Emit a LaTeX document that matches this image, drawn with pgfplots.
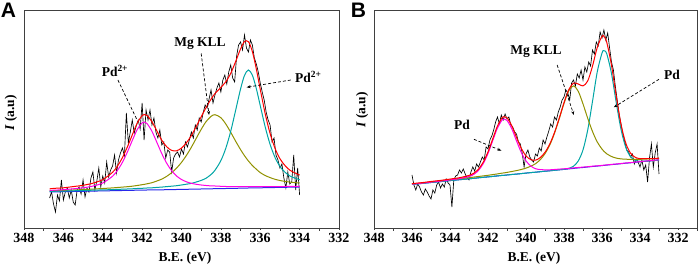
\documentclass[border=0pt]{standalone}
\usepackage{fontspec}
\setmainfont{Liberation Serif}
\newfontfamily\arialfont{Liberation Sans}
\usepackage{pgfplots}
\pgfplotsset{compat=1.18}
\usepackage{pgfplotstable}
\usetikzlibrary{arrows.meta}

\definecolor{cmag}{RGB}{255,0,230}
\definecolor{colive}{RGB}{145,145,0}
\definecolor{cteal}{RGB}{0,165,165}
\definecolor{cblue}{RGB}{40,40,235}
\definecolor{cred}{RGB}{255,0,0}

\pgfplotstableread{
E M O T S B
346.7 37.5 37.1 36.5 39.1 36.0
346.5 37.8 37.3 36.7 39.6 36.1
346.0 38.3 37.6 36.9 40.2 36.3
345.5 39.2 38.0 37.2 41.4 36.5
345.0 40.2 38.4 37.5 42.7 36.7
344.5 41.9 38.9 37.8 44.8 36.9
344.0 45.0 39.5 38.1 48.4 37.1
343.5 51.8 40.1 38.4 55.7 37.3
343.25 57.7 40.5 38.6 62.0 37.4
343.0 65.7 40.9 38.8 70.4 37.5
342.75 75.9 41.3 39.0 81.0 37.6
342.5 87.5 41.8 39.2 93.1 37.7
342.25 98.4 42.5 39.5 104.8 37.8
342.0 105.2 43.3 39.7 112.4 37.9
341.9 105.9 43.6 39.8 113.5 37.9
341.75 104.4 44.2 40.0 112.6 38.0
341.5 96.7 45.3 40.2 106.2 38.0
341.25 85.6 47.0 40.6 97.0 38.1
341.0 74.3 48.9 40.9 87.7 38.2
340.75 64.7 51.7 41.4 81.2 38.3
340.5 57.3 55.3 41.8 77.6 38.4
340.25 52.0 59.9 42.3 77.2 38.5
340.0 48.5 65.6 43.0 79.9 38.6
339.75 46.2 72.6 43.8 85.2 38.7
339.5 44.7 80.7 44.6 92.4 38.8
339.25 43.7 89.7 46.0 101.6 38.9
339.0 43.0 98.6 47.6 111.2 39.0
338.75 42.5 106.4 49.8 120.5 39.1
338.5 42.1 111.6 53.5 128.8 39.2
338.3 42.0 113.3 57.7 134.4 39.3
338.0 41.7 110.3 67.4 140.6 39.4
337.75 41.5 104.0 79.7 146.2 39.5
337.5 41.4 95.7 96.7 154.6 39.6
337.25 41.3 86.8 117.7 166.4 39.7
337.0 41.3 78.4 139.0 179.1 39.8
336.8 41.3 72.3 152.6 186.4 39.9
336.6 41.3 67.0 158.0 186.3 40.0
336.4 41.3 62.5 152.8 176.4 40.1
336.2 41.3 58.8 139.4 159.1 40.2
336.0 41.3 55.4 122.4 138.7 40.2
335.75 41.3 52.5 101.2 114.4 40.3
335.5 41.3 50.4 83.6 94.5 40.4
335.25 41.4 48.7 70.6 79.7 40.5
335.0 41.4 47.5 61.6 69.3 40.6
334.75 41.5 46.6 55.9 62.6 40.7
334.5 41.5 45.9 52.1 57.9 40.8
334.25 41.6 45.4 50.0 55.2 40.9
334.0 41.6 45.0 48.3 52.9 41.0
}\fitA

\pgfplotstableread{
E M O T S B
346.0 43.9 44.1 43.6 44.4 43.6
345.5 44.8 45.0 44.5 45.3 44.5
345.0 45.9 46.1 45.5 46.5 45.5
344.5 46.9 47.1 46.4 47.6 46.4
344.0 48.1 48.2 47.4 48.9 47.4
343.5 49.4 49.2 48.3 50.3 48.3
343.0 51.5 50.3 49.2 52.6 49.2
342.75 53.6 50.9 49.7 54.8 49.7
342.5 57.6 51.5 50.2 58.9 50.2
342.25 64.4 52.1 50.7 65.8 50.7
342.0 74.5 52.7 51.1 76.1 51.1
341.75 87.4 53.4 51.6 89.2 51.6
341.5 100.1 54.1 52.1 102.1 52.1
341.25 108.2 54.9 52.6 110.5 52.6
341.15 109.0 55.1 52.7 111.4 52.7
341.0 107.6 55.6 53.0 110.2 53.0
340.75 99.3 56.5 53.5 102.3 53.5
340.5 87.1 57.4 53.9 90.6 53.9
340.25 75.6 58.5 54.4 79.7 54.4
340.0 67.1 59.9 54.9 72.1 54.9
339.75 62.0 61.8 55.4 68.4 55.4
339.5 59.3 64.3 55.8 67.8 55.8
339.25 58.4 68.3 56.3 70.4 56.3
339.0 58.2 74.3 56.8 75.7 56.8
338.75 58.2 82.9 57.2 83.9 57.2
338.5 58.5 94.7 57.7 95.5 57.7
338.25 58.9 109.2 58.2 109.9 58.2
338.0 59.2 124.6 58.7 125.3 58.6
337.75 59.6 137.2 59.7 138.3 59.1
337.5 60.1 142.1 61.8 144.8 59.6
337.25 60.5 136.7 67.0 144.0 60.1
337.0 60.9 124.1 78.1 142.1 60.5
336.75 61.3 109.6 98.2 147.1 61.0
336.5 61.8 96.5 126.6 161.9 61.5
336.25 62.2 86.0 156.1 180.5 61.9
336.0 62.6 78.9 175.0 191.8 62.4
335.9 62.8 76.7 177.3 191.6 62.6
335.75 63.1 74.2 174.2 185.7 62.9
335.5 63.6 71.5 154.4 162.7 63.4
335.25 64.0 69.9 125.3 131.6 63.8
335.0 64.5 69.1 98.7 103.7 64.3
334.75 65.0 68.8 80.7 84.9 64.8
334.5 65.4 68.6 71.3 74.9 65.2
334.25 65.9 68.6 67.6 70.7 65.7
334.0 66.4 68.7 66.7 69.4 66.2
333.5 67.3 69.1 67.1 69.3 67.1
333.0 68.2 69.6 68.0 69.8 68.0
}\fitB

\pgfplotstableread{
E I
346.7 30
346.6 36
346.5 24
346.4 16
346.3 33
346.2 27
346.1 48
346.0 28
345.9 36
345.8 40
345.7 30
345.6 38
345.5 26
345.4 23
345.3 38
345.2 41
345.1 34
345.0 48
344.9 31
344.8 40
344.7 36
344.6 50
344.5 56
344.4 38
344.3 47
344.2 60
344.1 41
344.0 52
343.9 45
343.8 66
343.7 51
343.6 58
343.5 62
343.4 73
343.3 55
343.2 68
343.1 75
343.0 80
342.9 72
342.8 115
342.7 85
342.6 96
342.5 108
342.4 95
342.3 102
342.2 108
342.1 99
342.0 125
341.9 88
341.8 118
341.7 108
341.6 118
341.5 103
341.4 110
341.3 96
341.2 90
341.1 98
341.0 83
340.9 86
340.8 70
340.7 78
340.6 76
340.5 56
340.4 70
340.3 74
340.2 76
340.1 71
340.0 79
339.9 74
339.8 86
339.7 81
339.6 88
339.5 96
339.4 90
339.3 103
339.2 98
339.1 110
339.0 106
338.9 115
338.8 123
338.7 120
338.6 129
338.5 138
338.4 125
338.3 133
338.2 140
338.1 145
338.0 136
337.9 148
337.8 153
337.7 144
337.6 156
337.5 163
337.4 150
337.3 146
337.2 172
337.1 183
337.0 186
336.9 178
336.8 193
336.7 180
336.6 176
336.5 188
336.4 183
336.3 170
336.2 164
336.1 156
336.0 145
335.9 136
335.8 128
335.7 116
335.6 108
335.5 103
335.4 86
335.3 90
335.2 73
335.1 68
335.0 60
334.9 64
334.8 50
334.7 40
334.6 56
334.5 44
334.4 46
334.3 73
334.2 38
334.1 60
334.0 33
}\rawA

\pgfplotstableread{
E I
346.0 53
345.9 43
345.8 38
345.7 44
345.6 41
345.5 36
345.4 33
345.3 39
345.2 36
345.1 32
345.0 29
344.9 38
344.8 35
344.7 43
344.6 46
344.5 40
344.4 44
344.3 41
344.2 49
344.1 45
344.0 43
343.9 21
343.8 48
343.7 52
343.6 53
343.5 58
343.4 55
343.3 59
343.2 54
343.1 50
343.0 48
342.9 56
342.8 61
342.7 57
342.6 64
342.5 61
342.4 66
342.3 71
342.2 68
342.1 81
342.0 79
341.9 88
341.8 92
341.7 98
341.6 106
341.5 111
341.4 104
341.3 113
341.2 108
341.1 114
341.0 109
340.9 111
340.8 103
340.7 101
340.6 96
340.5 94
340.4 86
340.3 84
340.2 75
340.1 61
340.0 74
339.9 78
339.8 71
339.7 68
339.6 66
339.5 74
339.4 72
339.3 80
339.2 77
339.1 88
339.0 84
338.9 91
338.8 97
338.7 104
338.6 101
338.5 111
338.4 108
338.3 116
338.2 121
338.1 128
338.0 131
337.9 138
337.8 135
337.7 128
337.6 145
337.5 148
337.4 142
337.3 154
337.2 150
337.1 158
337.0 148
336.9 161
336.8 156
336.7 166
336.6 162
336.5 178
336.4 174
336.3 186
336.2 182
336.1 196
336.0 190
335.9 198
335.8 188
335.7 195
335.6 180
335.5 166
335.4 158
335.3 142
335.2 128
335.1 114
335.0 104
334.9 94
334.8 86
334.7 78
334.6 76
334.5 71
334.4 74
334.3 64
334.2 69
334.1 66
334.0 61
333.9 68
333.8 58
333.7 63
333.6 46
333.5 70
333.4 84
333.3 61
333.2 75
333.1 84
333.0 54
}\rawB

\pgfplotsset{
  xpsaxis/.style={
    scale only axis, height=218pt,
    anchor=center,
    x dir=reverse, ymin=0, ymax=218,
    xtick={332,334,...,348},
    minor xtick={331,333,...,347},
    ytick=\empty,
    xtick pos=lower, tick align=outside,
    major tick length=2pt, minor tick length=3pt,
    every tick/.style={black!75, line width=0.7pt},
    axis line style={line width=0.8pt, black!75},
    xticklabel={\bfseries\fontsize{14}{15}\selectfont\pgfmathprintnumber[assume math mode=true,1000 sep={}]{\tick}},
    clip=false,
  },
  rawline/.style={black, line width=0.65pt},
  fitline/.style={line width=1pt, smooth},
}
\tikzset{
  ann/.style={font=\fontsize{13.5}{14}\selectfont\bfseries},
  arr/.style={line width=0.7pt, dash pattern=on 3pt off 2pt},
}

\begin{document}
\begin{tikzpicture}
\path[use as bounding box] (0,0) rectangle (699pt,272pt);

% Panel A
\begin{axis}[xpsaxis, at={(181.5pt,153pt)}, width=315pt, xmin=332, xmax=348]
\addplot[rawline] table[x=E, y=I] {\rawA};
\addplot[fitline, cblue] table[x=E, y=B] {\fitA};
\addplot[fitline, colive] table[x=E, y=O] {\fitA};
\addplot[fitline, cteal] table[x=E, y=T] {\fitA};
\addplot[fitline, cmag] table[x=E, y=M] {\fitA};
\addplot[fitline, cred] table[x=E, y=S] {\fitA};
\node[ann] at (axis cs:343.38,157) {Pd\textsuperscript{2+}};
\draw[arr] (axis cs:343.23,148) -- (axis cs:342.28,109);
\node[ann] at (axis cs:339.06,184.5) {Mg KLL};
\draw[arr, -{Stealth[length=4pt,width=3pt]}] (axis cs:339.0,174.5) -- (axis cs:338.6,113);
\node[ann] at (axis cs:333.56,151) {Pd\textsuperscript{2+}};
\draw[arr, -{Stealth[length=4pt,width=3pt]}] (axis cs:334.45,148) -- (axis cs:336.69,140.7);
\end{axis}

% Panel B
\begin{axis}[xpsaxis, at={(535.5pt,153pt)}, width=323pt, xmin=331, xmax=348]
\addplot[rawline] table[x=E, y=I] {\rawB};
\addplot[fitline, cblue] table[x=E, y=B] {\fitB};
\addplot[fitline, cteal] table[x=E, y=T] {\fitB};
\addplot[fitline, colive] table[x=E, y=O] {\fitB};
\addplot[fitline, cmag] table[x=E, y=M] {\fitB};
\addplot[fitline, cred] table[x=E, y=S] {\fitB};
\node[ann] at (axis cs:343.37,103) {Pd};
\draw[arr, -{Stealth[length=4pt,width=3pt]}] (axis cs:342.74,88.7) -- (axis cs:341.29,77.3);
\node[ann] at (axis cs:339.47,176.3) {Mg KLL};
\draw[arr, -{Stealth[length=4pt,width=3pt]}] (axis cs:338.36,163) -- (axis cs:337.48,113);
\node[ann] at (axis cs:332.32,153) {Pd};
\draw[arr, -{Stealth[length=4pt,width=3pt]}] (axis cs:333.0,148.7) -- (axis cs:335.38,120.7);
\end{axis}

% axis labels
\node[font=\fontsize{13.5}{14}\selectfont\bfseries] at (185pt,14pt) {B.E. (eV)};
\node[font=\fontsize{13.5}{14}\selectfont\bfseries] at (534pt,14pt) {B.E. (eV)};
\node[font=\fontsize{13.5}{14}\selectfont\bfseries, rotate=90] at (11pt,159pt) {\textit{I} (a.u)};
\node[font=\fontsize{13.5}{14}\selectfont\bfseries, rotate=90] at (362pt,162pt) {\textit{I} (a.u)};

% panel letters
\node[font=\arialfont\bfseries\fontsize{21}{22}\selectfont] at (8.5pt,262pt) {A};
\node[font=\arialfont\bfseries\fontsize{21}{22}\selectfont] at (358.5pt,262pt) {B};
\end{tikzpicture}
\end{document}
